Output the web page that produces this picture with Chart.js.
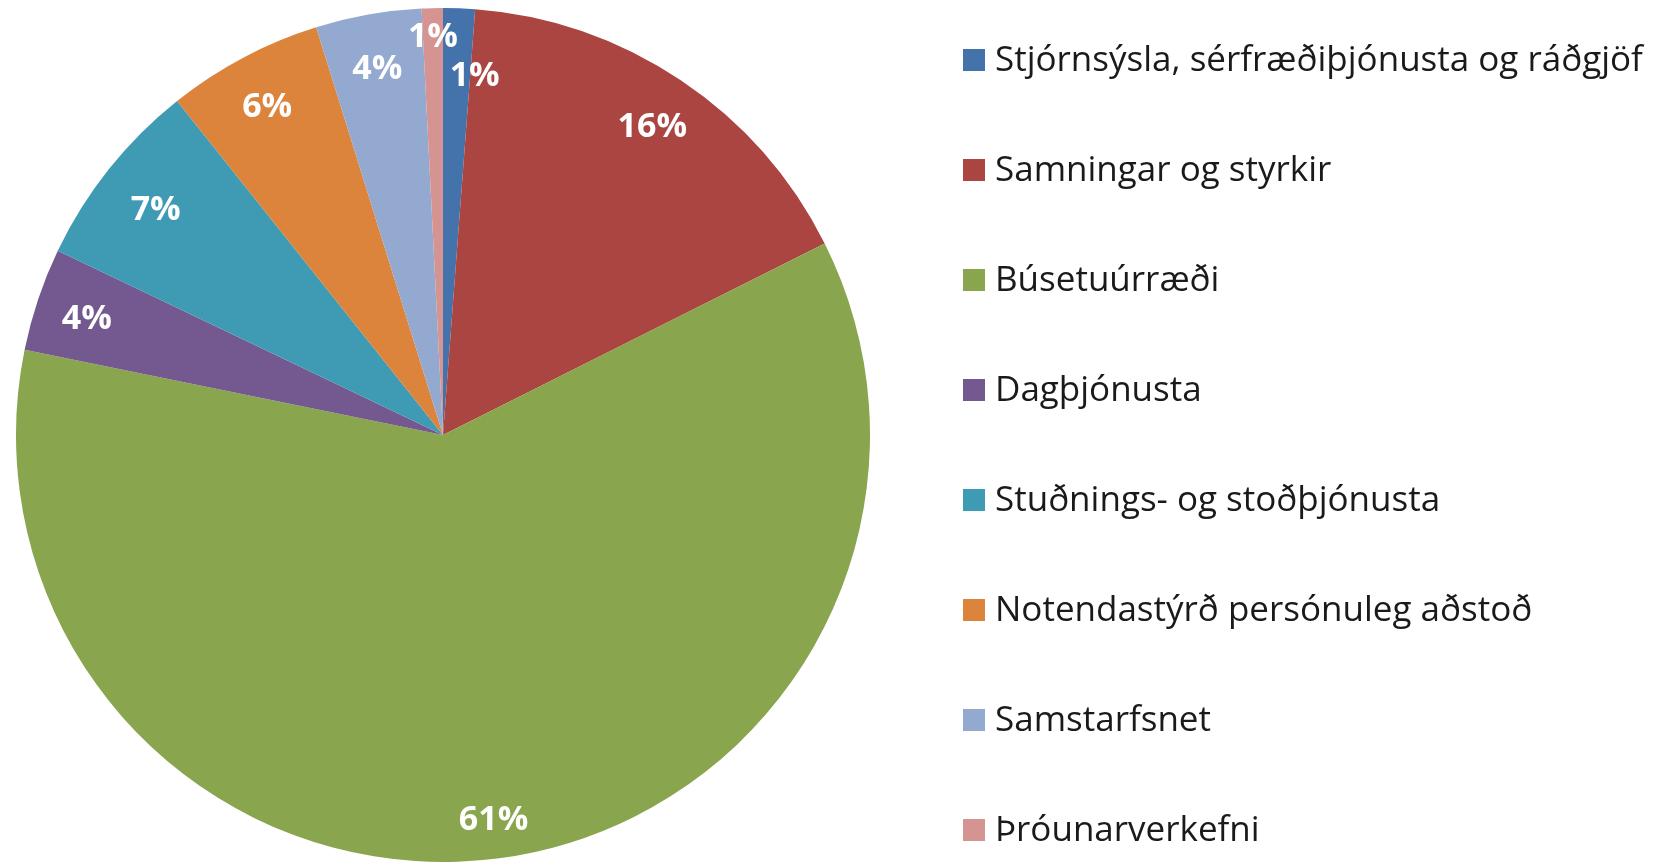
<!DOCTYPE html>
<html>
<head>
<meta charset="utf-8">
<script src="https://cdn.jsdelivr.net/npm/chart.js@4/dist/chart.umd.min.js"></script>
<style>
    html, body { margin: 0; padding: 0; background: #ffffff; }
    #wrap { width: 1660px; height: 864px; position: relative; }
</style>
</head>
<body>
<div id="wrap"><canvas id="grafica"></canvas></div>
<script>
// Datos (porcentaje del total)
const categorias = [
    'Stjórnsýsla, sérfræðiþjónusta og ráðgjöf',
    'Samningar og styrkir',
    'Búsetuúrræði',
    'Dagþjónusta',
    'Stuðnings- og stoðþjónusta',
    'Notendastýrð persónuleg aðstoð',
    'Samstarfsnet',
    'Þróunarverkefni'
];
const valores = [1.2, 16.4, 60.6, 3.9, 7.2, 5.9, 4.0, 0.8];
const etiquetas = ['1%', '16%', '61%', '4%', '7%', '6%', '4%', '1%'];

const colores = ['#4472ab', '#ab4542', '#89a54e', '#73598f', '#3f9bb3', '#dc843b', '#93a9d0', '#d59392'];

// Etiquetas blancas dentro de cada porción
const pluginEtiquetas = {
    id: 'etiquetas',
    afterDatasetsDraw(chart, args, opts) {
        const ctx = chart.ctx;
        const arcos = chart.getDatasetMeta(0).data;
        ctx.save();
        ctx.fillStyle = '#ffffff';
        ctx.font = 'bold 34px "Open Sans"';
        ctx.textAlign = 'center';
        ctx.textBaseline = 'middle';
        arcos.forEach((arco, i) => {
            const medio = (arco.startAngle + arco.endAngle) / 2;
            const factor = (opts.radios && opts.radios[i]) || 0.88;
            const desp = (opts.desplazamientos && opts.desplazamientos[i]) || [0, 0];
            const x = arco.x + Math.cos(medio) * arco.outerRadius * factor + desp[0];
            const y = arco.y + Math.sin(medio) * arco.outerRadius * factor + desp[1] + 4;
            ctx.fillText(etiquetas[i], x, y);
        });
        ctx.restore();
    }
};

// Leyenda dibujada a mano a la derecha
const pluginLeyenda = {
    id: 'leyendaDerecha',
    afterDraw(chart, args, opts) {
        const ctx = chart.ctx;
        ctx.save();
        ctx.font = opts.fuente;
        ctx.textBaseline = 'middle';
        categorias.forEach((nombre, i) => {
            const y = opts.inicioY + i * opts.paso;
            ctx.fillStyle = colores[i];
            ctx.fillRect(opts.x, y - opts.caja / 2, opts.caja, opts.caja);
            ctx.fillStyle = '#1a1a1a';
            ctx.fillText(nombre, opts.x + opts.caja + 10, y + 1);
        });
        ctx.restore();
    }
};

new Chart(document.getElementById('grafica'), {
    type: 'pie',
    data: {
        labels: categorias,
        datasets: [{
            data: valores,
            backgroundColor: colores,
            borderWidth: 0
        }]
    },
    options: {
        responsive: true,
        maintainAspectRatio: false,
        animation: false,
        layout: { padding: { left: 16, top: 8, bottom: 2, right: 790 } },
        plugins: {
            legend: { display: false },
            tooltip: { enabled: false },
            etiquetas: {
                radios: [0.85, 0.88, 0.9, 0.88, 0.86, 0.88, 0.88, 0.94],
                desplazamientos: [[18, 0], [0, 0], [0, 0], [0, 0], [0, 0], [0, 0], [0, 0], [0, 0]]
            },
            leyendaDerecha: { x: 963, inicioY: 60, paso: 110, caja: 22, fuente: '35px "Open Sans"' }
        }
    },
    plugins: [pluginEtiquetas, pluginLeyenda]
});
</script>
</body>
</html>
